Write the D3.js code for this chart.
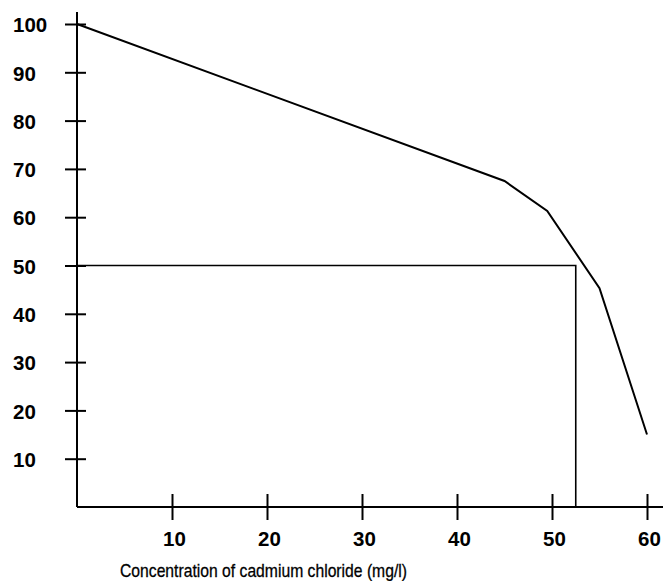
<!DOCTYPE html>
<html>
<head>
<meta charset="utf-8">
<script src="https://cdn.jsdelivr.net/npm/d3@7"></script>
<style>
  body { margin: 0; background: #fff; }
  text { font-family: "Liberation Sans", Arial, sans-serif; fill: #000; }
</style>
</head>
<body>
<svg></svg>
<script>
// survival curve
const conc = [0, 45, 49.5, 55, 60];
const survival = [100, 67.5, 61.3, 45.3, 15];
const xTicks = [10, 20, 30, 40, 50, 60];
const yTicks = [10, 20, 30, 40, 50, 60, 70, 80, 90, 100];
// 50% read-off
const halfX = 52.5, halfY = 50;

let width = 663, height = 581;

let svg = d3.select('svg')
    .attr('width', width)
    .attr('height', height);

const x = d3.scaleLinear().domain([0, 60]).range([77, 647]);
const y = d3.scaleLinear().domain([0, 100]).range([507, 24]);

// axes lines run past the last tick
svg.append('line')
    .attr('x1', x(0)).attr('x2', x(0))
    .attr('y1', y(0)).attr('y2', 12)
    .attr('stroke', '#000').attr('stroke-width', 2);

svg.append('line')
    .attr('x1', x(0)).attr('x2', width)
    .attr('y1', y(0)).attr('y2', y(0))
    .attr('stroke', '#000').attr('stroke-width', 2);

// y labels sit left-aligned in a column
let yAxis = svg.append('g')
    .attr('transform', `translate(${x(0)},0)`)
    .call(d3.axisLeft(y).tickValues(yTicks).tickSize(0))
    .call(g => g.select('.domain').remove())
    .call(g => g.selectAll('.tick line')
        .attr('x1', -12).attr('x2', 9)
        .attr('stroke', '#000').attr('stroke-width', 2))
    .call(g => g.selectAll('.tick text')
        .attr('font-size', 20.5).attr('fill', '#000')
        .attr('font-family', null)
        .attr('font-weight', 'bold')
        .attr('text-anchor', 'start')
        .attr('x', 13 - x(0))
        .attr('dy', '0.38em'));

let xAxis = svg.append('g')
    .attr('transform', `translate(0,${y(0)})`)
    .call(d3.axisBottom(x).tickValues(xTicks).tickSize(0).tickPadding(24))
    .call(g => g.select('.domain').remove())
    .call(g => g.selectAll('.tick line')
        .attr('y1', -13).attr('y2', 13)
        .attr('stroke', '#000').attr('stroke-width', 2))
    .call(g => g.selectAll('.tick text')
        .attr('font-size', 20.5).attr('fill', '#000')
        .attr('font-family', null)
        .attr('font-weight', 'bold')
        .attr('dx', 2));

svg.append('text')
    .attr('x', 120)
    .attr('y', 577)
    .attr('font-size', 19)
    .attr('textLength', 287)
    .attr('lengthAdjust', 'spacingAndGlyphs')
    .attr('stroke', '#000')
    .attr('stroke-width', 0.3)
    .text('Concentration of cadmium chloride (mg/l)');

// reference lines at 50%
svg.append('path')
    .attr('d', d3.line()([[x(0), y(halfY)], [x(halfX), y(halfY)], [x(halfX), y(0)]]))
    .attr('fill', 'none')
    .attr('stroke', '#000')
    .attr('stroke-width', 1.6);

let line = d3.line()
    .x((d, i) => x(conc[i]))
    .y(d => y(d));

svg.append('path')
    .datum(survival)
    .attr('d', line)
    .attr('fill', 'none')
    .attr('stroke', '#000')
    .attr('stroke-width', 2);
</script>
</body>
</html>
